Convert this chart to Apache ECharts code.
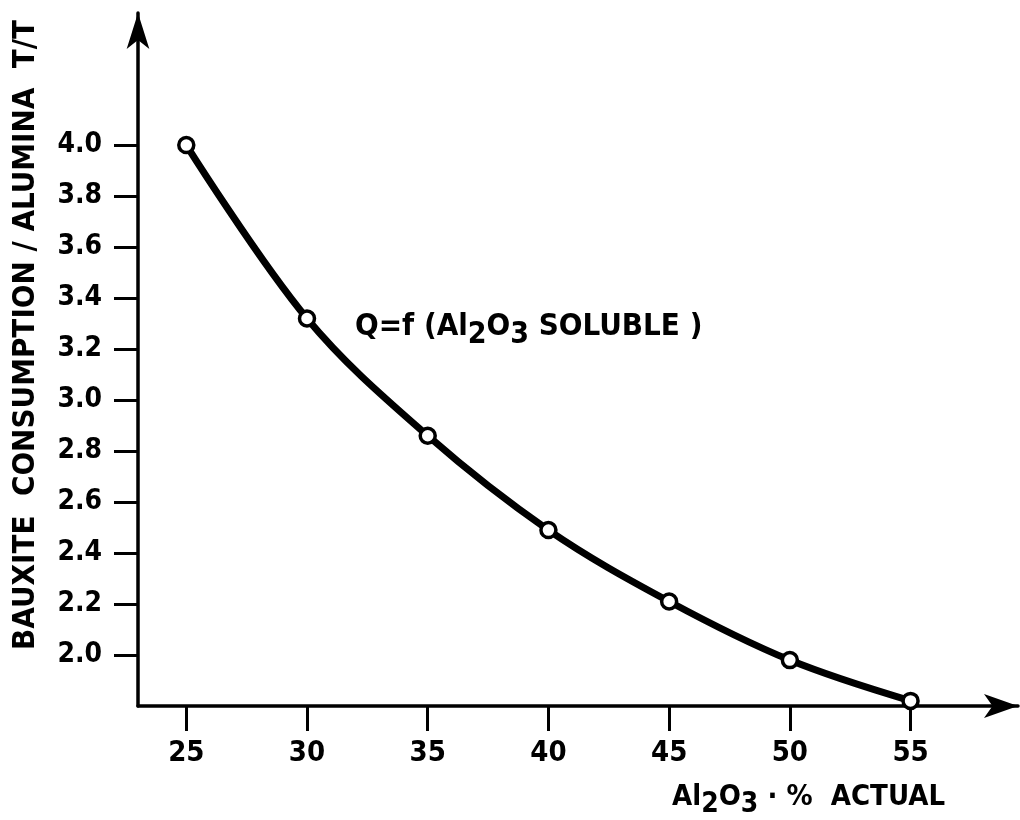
<!DOCTYPE html>
<html>
<head>
<meta charset="utf-8">
<script src="https://cdn.jsdelivr.net/npm/echarts@6/dist/echarts.min.js"></script>
<style>html,body{margin:0;padding:0;background:#fff}#c{width:1020px;height:820px}</style>
</head>
<body>
<div id="c"></div>
<script>
const xValues = [25, 30, 35, 40, 45, 50, 55];
const yValues = [4.0, 3.32, 2.86, 2.49, 2.21, 1.98, 1.82];
const xTicks = [25, 30, 35, 40, 45, 50, 55];
const yTicks = [2.0, 2.2, 2.4, 2.6, 2.8, 3.0, 3.2, 3.4, 3.6, 3.8, 4.0];
const yAxisTitle = 'BAUXITE  CONSUMPTION / ALUMINA  T/T';
const curveLabel = 'Q=f (Al{s|2}O{s|3} SOLUBLE )';
const xAxisTitle = 'Al{s|2}O{s|3} · %  ACTUAL';

const FONT = "'Liberation Sans Narrow', 'DejaVu Sans Condensed', 'Liberation Sans', sans-serif";
const chart = echarts.init(document.getElementById('c'), null, {renderer: 'canvas'});
const axisLineStyle = {color: '#000', width: 3.5};
chart.setOption({
  animation: false,
  backgroundColor: '#fff',
  grid: {left: 138, right: 2, top: 13, bottom: 114},
  xAxis: {
    type: 'value', min: 23, max: 59.45,
    splitLine: {show: false},
    axisLine: {lineStyle: axisLineStyle, symbol: ['none', 'arrow'], symbolSize: [18, 34]},
    axisTick: {customValues: xTicks, length: 25, lineStyle: {color: '#000', width: 3}},
    axisLabel: {customValues: xTicks, margin: 33, color: '#000', fontSize: 29, fontWeight: 'bold', fontFamily: FONT}
  },
  yAxis: {
    type: 'value', min: 1.8, max: 4.518,
    splitLine: {show: false},
    axisLine: {lineStyle: axisLineStyle, symbol: ['none', 'arrow'], symbolSize: [17, 36]},
    axisTick: {customValues: yTicks, length: 24, lineStyle: {color: '#000', width: 3}},
    axisLabel: {customValues: yTicks, margin: 36, color: '#000', fontSize: 28, fontWeight: 'bold', fontFamily: FONT,
      formatter: v => v.toFixed(1)}
  },
  series: [{
    type: 'line',
    data: xValues.map((x, i) => [x, yValues[i]]),
    smooth: 0.35,
    lineStyle: {color: '#000', width: 7},
    symbol: 'circle', symbolSize: 15,
    itemStyle: {color: '#fff', borderColor: '#000', borderWidth: 3.5}
  }],
  graphic: [
    {type: 'text', x: 26, y: 335, rotation: Math.PI / 2,
      style: {text: yAxisTitle, fill: '#000', font: 'bold 31px ' + FONT, align: 'center', verticalAlign: 'middle'}},
    {type: 'text', x: 355, y: 327,
      style: {text: curveLabel, fill: '#000', font: 'bold 31px ' + FONT, align: 'left', verticalAlign: 'middle',
        rich: {s: {font: 'bold 30px ' + FONT, fill: '#000', padding: [16, 0, 0, 0]}}}},
    {type: 'text', x: 945, y: 797,
      style: {text: xAxisTitle, fill: '#000', font: 'bold 29px ' + FONT, align: 'right', verticalAlign: 'middle',
        rich: {s: {font: 'bold 28px ' + FONT, fill: '#000', padding: [16, 0, 0, 0]}}}}
  ]
});
</script>
</body>
</html>
